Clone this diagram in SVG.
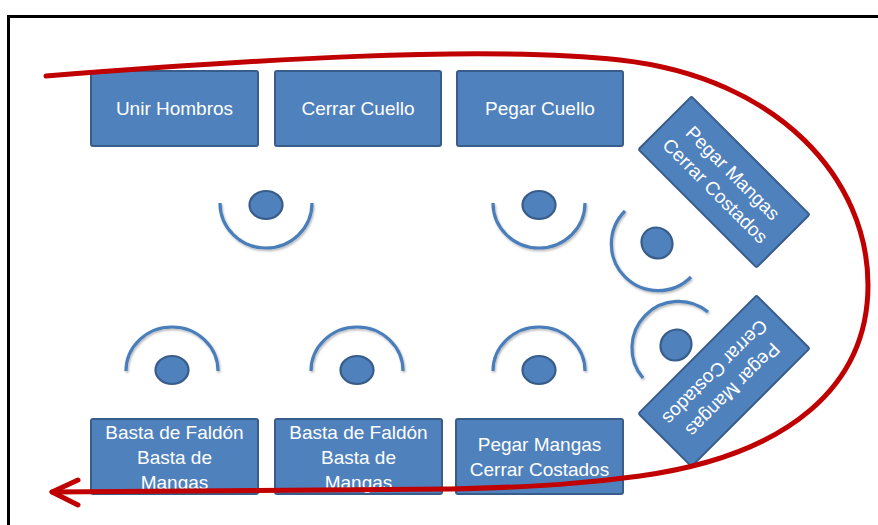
<svg xmlns="http://www.w3.org/2000/svg" width="878" height="525" viewBox="0 0 878 525">
<defs>
<style>
.box{fill:#4F81BD;stroke:#385D8A;stroke-width:2}
.lbl{font-family:"Liberation Sans",Arial,sans-serif;font-size:19px;fill:#FFFFFF;text-anchor:middle}
.arc{fill:none;stroke:#4A7EBB;stroke-width:3.2;filter:url(#sh)}
.op{fill:#4F81BD;stroke:#385D8A;stroke-width:2.2}
.flow{fill:none;stroke:#C00000;stroke-width:5;stroke-linecap:round;stroke-linejoin:round}
</style>
<filter id="sh" x="-20%" y="-20%" width="140%" height="140%">
<feDropShadow dx="1" dy="1.5" stdDeviation="1" flood-color="#000" flood-opacity="0.3"/>
</filter>
</defs>
<rect width="878" height="525" fill="#FFFFFF"/>
<path d="M8.5,525 L8.5,16.5 L878,16.5" fill="none" stroke="#000" stroke-width="3"/>

<g id="box-unir-hombros">
<rect class="box" x="91" y="71" width="167" height="75" rx="2"/>
<text class="lbl" x="174.5" y="115">Unir Hombros</text>
</g>
<g id="box-cerrar-cuello">
<rect class="box" x="275" y="71" width="166" height="75" rx="2"/>
<text class="lbl" x="358" y="115">Cerrar Cuello</text>
</g>
<g id="box-pegar-cuello">
<rect class="box" x="457" y="71" width="166" height="75" rx="2"/>
<text class="lbl" x="540" y="115">Pegar Cuello</text>
</g>
<g id="box-pegar-mangas-1" transform="translate(724,182) rotate(45)">
<rect class="box" x="-83.5" y="-37.5" width="167" height="75" rx="2"/>
<text class="lbl" x="0" y="-6">Pegar Mangas</text>
<text class="lbl" x="0" y="19">Cerrar Costados</text>
</g>
<g id="box-pegar-mangas-2" transform="translate(724,381) rotate(135)">
<rect class="box" x="-83.5" y="-37.5" width="167" height="75" rx="2"/>
<text class="lbl" x="0" y="-6">Pegar Mangas</text>
<text class="lbl" x="0" y="19">Cerrar Costados</text>
</g>
<g id="box-basta-1">
<rect class="box" x="91" y="419" width="167" height="75" rx="2"/>
<text class="lbl" x="174.5" y="439">Basta de Faldón</text>
<text class="lbl" x="174.5" y="464">Basta de</text>
<text class="lbl" x="174.5" y="489">Mangas</text>
</g>
<g id="box-basta-2">
<rect class="box" x="275" y="419" width="167" height="75" rx="2"/>
<text class="lbl" x="358.5" y="439">Basta de Faldón</text>
<text class="lbl" x="358.5" y="464">Basta de</text>
<text class="lbl" x="358.5" y="489">Mangas</text>
</g>
<g id="box-pegar-mangas-3">
<rect class="box" x="456" y="419" width="167" height="75" rx="2"/>
<text class="lbl" x="539.5" y="451">Pegar Mangas</text>
<text class="lbl" x="539.5" y="476">Cerrar Costados</text>
</g>

<g id="op-top-1">
<path class="arc" d="M220,203 A46,45 0 0 0 312,203"/>
<ellipse class="op" cx="266" cy="205" rx="16.5" ry="14"/>
</g>
<g id="op-top-2">
<path class="arc" d="M493,203 A46,45 0 0 0 585,203"/>
<ellipse class="op" cx="539" cy="205" rx="16.5" ry="14"/>
</g>
<g id="op-right-1">
<path class="arc" d="M625,211 A46.5,46.5 0 0 0 691,277"/>
<ellipse class="op" cx="657" cy="243" rx="16" ry="15" transform="rotate(45 657 243)"/>
</g>
<g id="op-right-2">
<path class="arc" d="M708,312 A46.5,46.5 0 0 0 643,378"/>
<ellipse class="op" cx="676" cy="345" rx="16" ry="15" transform="rotate(-45 676 345)"/>
</g>
<g id="op-bottom-1">
<path class="arc" d="M126,371 A46,44 0 0 1 218,371"/>
<ellipse class="op" cx="172" cy="370" rx="16.5" ry="14"/>
</g>
<g id="op-bottom-2">
<path class="arc" d="M311,371 A46,44 0 0 1 403,371"/>
<ellipse class="op" cx="357" cy="370" rx="16.5" ry="14"/>
</g>
<g id="op-bottom-3">
<path class="arc" d="M493,371 A46,44 0 0 1 585,371"/>
<ellipse class="op" cx="539" cy="370" rx="16.5" ry="14"/>
</g>

<g id="connectors">
<path class="flow" d="M46,76 C250,60 480,45 620,60 C780,78 868,180 868,285 C868,385 790,455 640,476 C590,483 540,487 450,489 L52,492"/>
<path class="flow" d="M78,480 L52,492 L78,505"/>
</g>
</svg>
